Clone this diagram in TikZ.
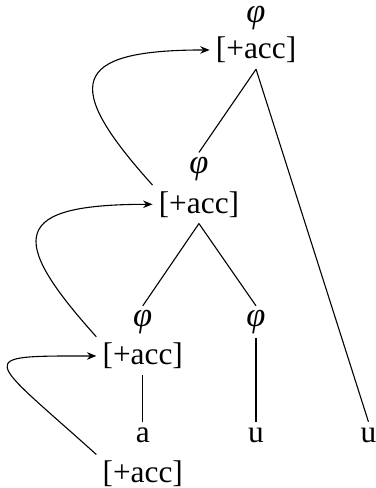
\documentclass[tikz,border=0pt]{standalone}
\usepackage{fontspec}
\setmainfont{Liberation Serif}
\usetikzlibrary{arrows.meta}

\begin{document}
\begin{tikzpicture}[
    font=\fontsize{10}{12}\selectfont,
    feat/.style={inner sep=1.8pt, align=center},
    seg/.style={inner sep=1.8pt},
    phi/.style={inner sep=1.2pt, font=\fontsize{11}{12}\selectfont\itshape},
    branch/.style={line width=0.35pt},
    move/.style={line width=0.35pt, -{Stealth[length=3pt, width=2.4pt]}, out=132, in=180, out distance=1.51cm, in distance=1.57cm}
]
\useasboundingbox (0,0) rectangle (4.21,5.47);

\node[phi] (phi1) at (2.87, 5.27) {φ};
\node[feat] (acc1) at (2.87, 4.91) {[+acc]};
\node[phi] (phi2) at (2.23, 3.58) {φ};
\node[feat] (acc2) at (2.23, 3.18) {[+acc]};
\node[phi] (phi3) at (1.60, 1.86) {φ};
\node[feat] (acc3) at (1.60, 1.48) {[+acc]};
\node[phi] (phi4) at (2.87, 1.86) {φ};
\node[seg] (a) at (1.60, 0.59) {a};
\node[seg] (u1) at (2.87, 0.59) {u};
\node[seg] (u2) at (4.13, 0.59) {u};
\node[feat] (acc4) at (1.60, 0.16) {[+acc]};

\draw[branch] (acc1.south) -- (phi2.north);
\draw[branch] (acc1.south) -- (u2.north);
\draw[branch] (acc2.south) -- (phi3.north);
\draw[branch] (acc2.south) -- (phi4.north);
\draw[branch] (acc3.south) -- (a.north);
\draw[branch] (phi4.south) -- (u1.north);

\draw[move] (acc2.north west) to (acc1.west);
\draw[move] (acc3.north west) to (acc2.west);
\draw[move, out=138, out distance=1.67cm, in distance=1.4cm] (acc4.north west) to (acc3.west);
\end{tikzpicture}
\end{document}
